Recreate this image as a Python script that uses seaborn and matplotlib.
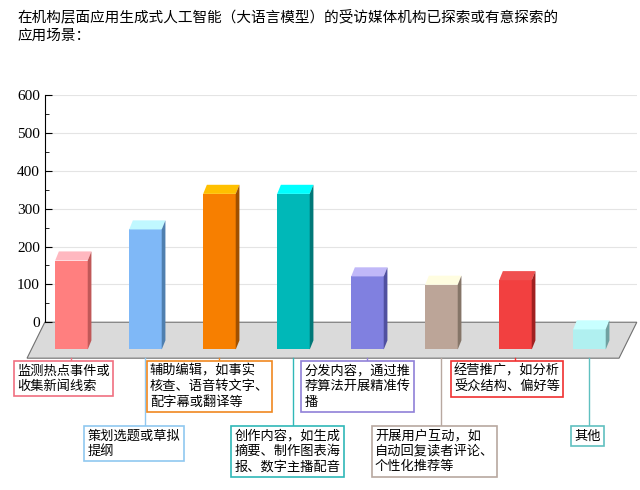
import seaborn as sns
import matplotlib.pyplot as plt
import pandas as pd
from matplotlib.patches import Polygon

plt.rcParams['font.family'] = 'Noto Sans CJK SC'

# Data
labels = ["监测热点事件或\n收集新闻线索", "策划选题或草拟\n提纲", "辅助编辑，如事实\n核查、语音转文字、\n配字幕或翻译等",
          "创作内容，如生成\n摘要、制作图表海\n报、数字主播配音", "分发内容，通过推\n荐算法开展精准传\n播",
          "开展用户互动，如\n自动回复读者评论、\n个性化推荐等", "经营推广，如分析\n受众结构、偏好等", "其他"]
values = [187, 269, 363, 363, 145, 123, 135, 5]
front_colors = ["#FF7F7F", "#7FB8F7", "#F77F00", "#00B8B8", "#8080E0", "#BCA598", "#F24040", "#B0F0F0"]
top_colors = ["#FFB8C0", "#C0F8FF", "#FFC000", "#00FFFF", "#C0B8F8", "#FFFDE0", "#F05050", "#C8FFFF"]
side_colors = ["#C05858", "#4F7FAF", "#A05000", "#007878", "#5050A0", "#857568", "#A02020", "#70A0A0"]
edge_colors = ["#F07080", "#90C8F0", "#F08820", "#30B8B8", "#9080D8", "#B8A8A0", "#F03030", "#60C0C0"]

# layout of the label boxes (x offset from bar, row)
box_dx = [-0.73, -0.78, -0.94, -0.80, -0.85, -0.90, -0.83, -0.20]
box_row = [0, 1, 0, 1, 0, 1, 0, 1]
row_y = [-112, -283]

floor = -72
depth = 24
cats = [f"c{i}" for i in range(len(values))]
df = pd.DataFrame({"cat": cats, "h": [max(v - depth, -55) - floor for v in values]})

fig = plt.figure(figsize=(6.4, 4.9), dpi=100)
ax = fig.add_axes([0.07, 0.269, 0.925, 0.537])

# grid and floor
for y in range(100, 601, 100):
    ax.axhline(y, color="#E4E4E4", lw=0.8, zorder=0)
ax.add_patch(Polygon([(-0.36, 0), (7.64, 0), (7.4, -95), (-0.6, -95)], closed=True,
                     facecolor="#DADADA", edgecolor="#707070", lw=0.8, zorder=0.5, clip_on=False))

sns.barplot(data=df, x="cat", y="h", palette=front_colors, hue="cat", legend=False,
            width=0.44, saturation=1, ax=ax, zorder=2)

bars = sorted([b for c in ax.containers for b in c], key=lambda b: b.get_x())
dx, dy = 0.05, depth
for i, p in enumerate(bars):
    p.set_y(floor)
    x0, w, top = p.get_x(), p.get_width(), floor + p.get_height()
    ax.add_patch(Polygon([(x0, top), (x0 + w, top), (x0 + w + dx, top + dy), (x0 + dx, top + dy)],
                         facecolor=top_colors[i], edgecolor="none", zorder=3))
    ax.add_patch(Polygon([(x0 + w, floor), (x0 + w, top), (x0 + w + dx, top + dy), (x0 + w + dx, floor + dy)],
                         facecolor=side_colors[i], edgecolor="none", zorder=3))
    yb = row_y[box_row[i]]
    ax.plot([i, i], [-95, yb], color=edge_colors[i], lw=1, clip_on=False, zorder=1)
    ax.text(i + box_dx[i], yb, labels[i], ha="left", va="top", fontsize=9.5, linespacing=1.25,
            bbox=dict(boxstyle="square,pad=0.25", facecolor="white", edgecolor=edge_colors[i], lw=1.2),
            clip_on=False, zorder=4)

ax.set_xlim(-0.36, 7.64)
ax.set_ylim(-95, 600)
ax.set_yticks(range(0, 601, 100))
ax.set_yticks(range(0, 601, 50), minor=True)
ax.set_yticklabels([str(v) for v in range(0, 601, 100)], fontfamily="Liberation Serif", fontsize=11)
ax.tick_params(axis="y", which="major", length=5, direction="in")
ax.tick_params(axis="y", which="minor", length=3, direction="in")
ax.set_xticks([])
ax.set_xlabel("")
ax.set_ylabel("")
for s in ["top", "right", "bottom"]:
    ax.spines[s].set_visible(False)
ax.spines["left"].set_bounds(0, 600)

fig.text(0.028, 0.98, "在机构层面应用生成式人工智能（大语言模型）的受访媒体机构已探索或有意探索的\n应用场景：",
         ha="left", va="top", fontsize=10.5, linespacing=1.4)

fig.savefig("out.png", dpi=100)
